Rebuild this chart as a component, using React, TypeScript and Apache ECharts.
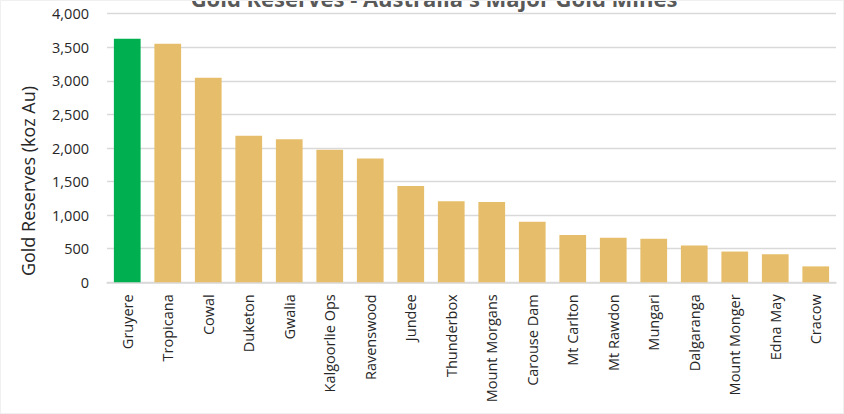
import React, { useEffect, useRef } from "react";
import * as echarts from "echarts";

const categories = [
  "Gruyere", "Tropicana", "Cowal", "Duketon", "Gwalia", "Kalgoorlie Ops",
  "Ravenswood", "Jundee", "Thunderbox", "Mount Morgans", "Carouse Dam",
  "Mt Carlton", "Mt Rawdon", "Mungari", "Dalgaranga", "Mount Monger",
  "Edna May", "Cracow",
];
const reserves = [
  3626, 3552, 3045, 2182, 2129, 1975, 1842, 1434, 1206, 1197, 902, 704, 665,
  650, 547, 458, 418, 237,
];
const highlighted = ["Gruyere"];
const titleText = "Gold Reserves - Australia's Major Gold Mines";
const yAxisName = "Gold Reserves (koz Au)";

const GREEN = "#00B050";
const GOLD = "#E6BE6B";

export default function App() {
  const ref = useRef<HTMLDivElement>(null);
  useEffect(() => {
    if (!ref.current) return;
    const chart = echarts.init(ref.current, undefined, { renderer: "svg" });
    chart.setOption({
      animation: false,
      backgroundColor: "#ffffff",
      textStyle: { fontFamily: "Open Sans" },
      title: {
        text: titleText,
        left: 428,
        top: -19,
        textAlign: "center",
        textStyle: { fontSize: 22, fontWeight: "bold", color: "#595959", fontFamily: "Open Sans" },
      },
      graphic: [
        {
          type: "text",
          x: 27,
          y: 180,
          rotation: Math.PI / 2,
          style: {
            text: yAxisName,
            fontSize: 18,
            fill: "#262626",
            fontFamily: "Open Sans",
            textAlign: "center",
            textVerticalAlign: "middle",
          },
        },
      ],
      grid: { left: 106, right: 7, top: 12.7, bottom: 130.7, containLabel: false },
      xAxis: {
        type: "category",
        data: categories,
        axisLine: { lineStyle: { color: "#d9d9d9", width: 1.5 } },
        axisTick: { show: false },
        axisLabel: {
          rotate: 90,
          interval: 0,
          margin: 12,
          fontSize: 14.5,
          color: "#262626",
          fontFamily: "Open Sans",
        },
      },
      yAxis: {
        type: "value",
        min: 0,
        max: 4000,
        interval: 500,
        axisLine: { show: false },
        axisTick: { show: false },
        splitLine: { lineStyle: { color: "#d9d9d9", width: 1.3 } },
        axisLabel: {
          margin: 18,
          fontSize: 14.5,
          color: "#262626",
          fontFamily: "Open Sans",
          formatter: (v: number) => v.toLocaleString("en-US"),
        },
      },
      series: [
        {
          type: "bar",
          barCategoryGap: "34%",
          data: reserves.map((v, i) => ({
            value: v,
            itemStyle: {
              color: highlighted.includes(categories[i]) ? GREEN : GOLD,
            },
          })),
        },
      ],
    });
    return () => chart.dispose();
  }, []);
  return (
    <div
      ref={ref}
      style={{
        position: "absolute",
        left: 0,
        top: 0,
        width: 844,
        height: 414,
        boxSizing: "border-box",
        border: "1px solid #f0f0f0",
      }}
    />
  );
}
